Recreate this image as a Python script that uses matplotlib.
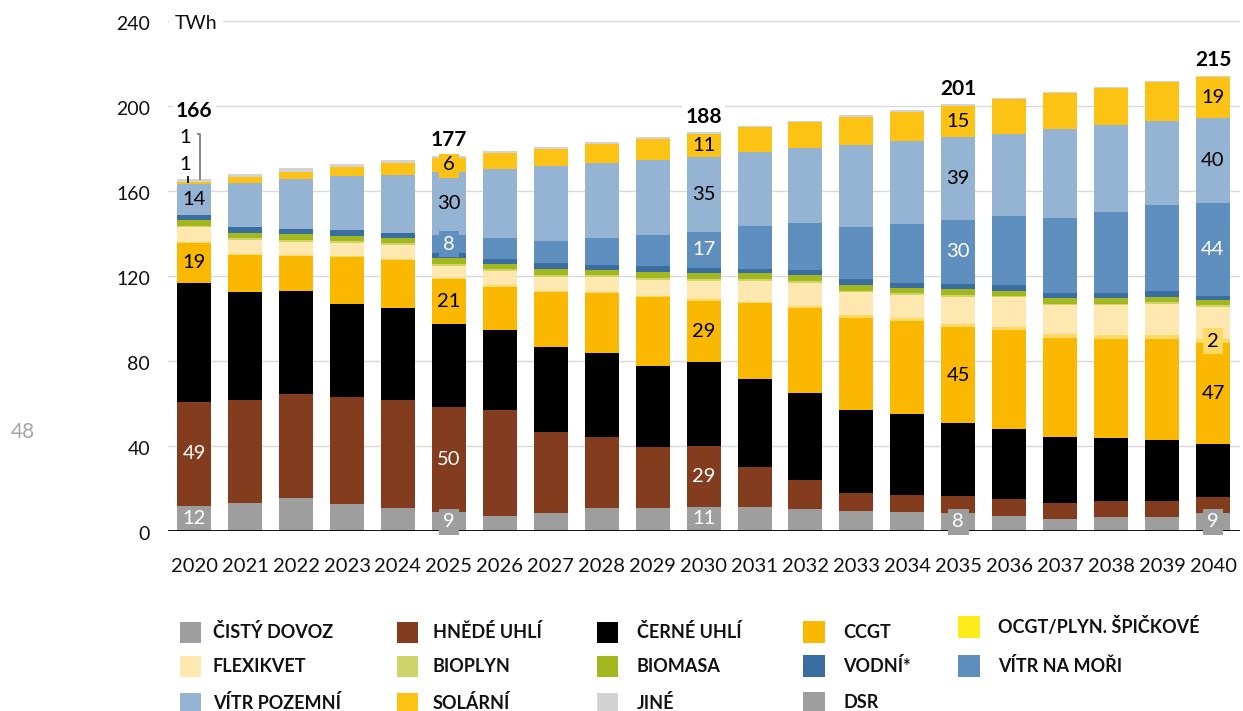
import matplotlib
matplotlib.use("Agg")
import matplotlib.pyplot as plt
from matplotlib.patches import Rectangle
from matplotlib.transforms import ScaledTranslation
import numpy as np

plt.rcParams['font.family'] = ['Lato', 'DejaVu Sans']

# ---------------- data (TWh) ----------------
years = [str(y) for y in range(2020, 2041)]

cisty_dovoz = [11.8, 13.2, 15.3, 12.7, 10.8, 8.6, 6.9, 8.2, 10.6, 10.6, 11.3,
               11.0, 10.2, 9.4, 8.7, 8.5, 6.9, 5.7, 6.6, 6.6, 8.5]
hnede_uhli = [48.7, 48.4, 49.3, 50.2, 50.8, 49.7, 50.0, 38.3, 33.7, 29.0, 28.6,
              18.9, 13.7, 8.5, 8.3, 8.0, 8.0, 7.5, 7.4, 7.4, 7.2]
cerne_uhli = [56.1, 50.9, 48.2, 43.9, 43.3, 39.0, 37.7, 40.2, 39.6, 38.0, 39.5,
              41.6, 40.8, 39.0, 37.8, 34.4, 33.0, 31.1, 29.8, 28.9, 25.3]
ccgt = [19.1, 17.6, 16.8, 22.3, 22.8, 21.2, 20.4, 25.6, 28.0, 32.4, 29.0,
        35.6, 40.4, 43.5, 44.2, 44.9, 46.7, 46.7, 46.7, 47.3, 47.3]
ocgt = [0.3, 0.4, 0.4, 0.4, 0.4, 0.5, 0.6, 0.6, 0.6, 0.7, 0.8,
        0.9, 1.0, 1.2, 1.3, 1.5, 1.6, 1.7, 1.7, 1.8, 2.0]
flexikvet = [7.0, 6.5, 6.2, 6.2, 6.5, 5.9, 6.8, 6.8, 7.2, 7.4, 8.6,
             9.7, 10.8, 10.7, 10.8, 13.0, 13.8, 13.5, 14.0, 14.8, 15.3]
bioplyn = [0.8] * 21
biomasa = [2.4, 2.6, 2.8, 2.5, 2.7, 2.6, 2.6, 2.8, 2.4, 3.2, 2.7,
           2.8, 2.8, 2.7, 2.5, 2.6, 2.3, 2.5, 2.5, 2.4, 2.3]
vodni = [2.5, 2.6, 2.4, 2.6, 2.3, 2.4, 2.4, 2.7, 2.5, 2.6, 2.4,
         2.2, 2.4, 2.7, 2.5, 2.6, 2.5, 2.7, 2.7, 2.8, 2.1]
vitr_more = [0.0, 0.0, 0.0, 0.0, 0.0, 8.6, 9.9, 10.7, 12.4, 14.6, 17.2,
             20.1, 21.9, 24.8, 27.8, 30.1, 32.9, 35.3, 38.0, 40.8, 43.8]
vitr_pozemni = [14.5, 21.0, 23.4, 25.4, 27.4, 29.9, 32.2, 35.2, 35.3, 35.4, 35.1,
                35.0, 35.4, 38.6, 38.9, 39.0, 38.6, 41.9, 40.8, 39.3, 39.7]
solarni = [0.9, 2.5, 3.6, 4.5, 5.5, 6.3, 7.5, 8.0, 9.1, 9.9, 10.8,
           11.5, 12.2, 13.2, 13.9, 14.9, 16.2, 16.7, 17.5, 18.4, 19.4]
jine = [1.6, 1.6, 1.6, 1.3, 1.4, 1.3, 1.0, 1.1, 1.0, 0.9, 0.9,
        0.6, 0.7, 0.7, 0.8, 0.7, 0.5, 0.6, 0.6, 0.6, 0.8]
dsr = [0.0] * 21

series_names = ['ČISTÝ DOVOZ', 'HNĚDÉ UHLÍ', 'ČERNÉ UHLÍ', 'CCGT', 'OCGT/PLYN. ŠPIČKOVÉ',
                'FLEXIKVET', 'BIOPLYN', 'BIOMASA', 'VODNÍ*', 'VÍTR NA MOŘI',
                'VÍTR POZEMNÍ', 'SOLÁRNÍ', 'JINÉ', 'DSR']
series_values = [cisty_dovoz, hnede_uhli, cerne_uhli, ccgt, ocgt, flexikvet, bioplyn,
                 biomasa, vodni, vitr_more, vitr_pozemni, solarni, jine, dsr]
bar_colors = ['#9E9E9E', '#843C1E', '#000000', '#FAB800', '#FFD966', '#FFE8B0',
              '#CCD46A', '#A2B81E', '#3A6EA0', '#5F8FBE', '#95B3D3', '#FCC314',
              '#D3D3D3', '#9E9E9E']
legend_colors = ['#9E9E9E', '#843C1E', '#000000', '#FAB800', '#FFEB1A', '#FFE8B0',
                 '#CCD46A', '#A2B81E', '#3A6EA0', '#5F8FBE', '#95B3D3', '#FCC314',
                 '#D3D3D3', '#9E9E9E']

# segment labels: (year, series index, text, text colour, boxed)
seg_labels = [
    ('2020', 0, '12', 'white', False), ('2020', 1, '49', 'white', False),
    ('2020', 3, '19', 'black', False), ('2020', 10, '14', 'black', False),
    ('2025', 0, '9', 'white', True), ('2025', 1, '50', 'white', False),
    ('2025', 3, '21', 'black', False), ('2025', 9, '8', 'white', True),
    ('2025', 10, '30', 'black', False), ('2025', 11, '6', 'black', True),
    ('2030', 0, '11', 'white', False), ('2030', 1, '29', 'white', False),
    ('2030', 3, '29', 'black', False), ('2030', 9, '17', 'white', False),
    ('2030', 10, '35', 'black', False), ('2030', 11, '11', 'black', False),
    ('2035', 0, '8', 'white', True), ('2035', 3, '45', 'black', False),
    ('2035', 9, '30', 'white', False), ('2035', 10, '39', 'black', False),
    ('2035', 11, '15', 'black', False),
    ('2040', 0, '9', 'white', True), ('2040', 3, '47', 'black', False),
    ('2040', 4, '2', 'black', True), ('2040', 9, '44', 'white', False),
    ('2040', 10, '40', 'black', False), ('2040', 11, '19', 'black', False),
]
total_years = ['2020', '2025', '2030', '2035', '2040']
total_texts = ['166', '177', '188', '201', '215']

y_ticks = [0, 40, 80, 120, 160, 200, 240]

# ---------------- figure ----------------
W, H = 1243, 711
fig = plt.figure(figsize=(W / 100, H / 100), dpi=100)
ax_left, ax_right, ax_bottom, ax_top = 168, 1240, 530.7, 18
ax = fig.add_axes([ax_left / W, 1 - ax_bottom / H, (ax_right - ax_left) / W,
                   (ax_bottom - ax_top) / H])

x = np.arange(len(years))
bar_w = 0.667
bottom = np.zeros(len(years))
bottoms = []
for vals, col in zip(series_values, bar_colors):
    v = np.array(vals)
    bottoms.append(bottom.copy())
    ax.bar(x, v, bar_w, bottom=bottom, color=col, linewidth=0, zorder=3)
    bottom = bottom + v
totals = bottom

ax.set_xlim(-0.514, 20.53)
ax.set_ylim(0, 241.6)
ax.set_yticks(y_ticks)
ax.set_yticklabels([str(t) for t in y_ticks])
ax.set_xticks(x)
ax.set_xticklabels(years)
ax.tick_params(axis='y', length=0, pad=13, labelsize=14, labelcolor='#111111')
ax.tick_params(axis='x', length=0, pad=20, labelsize=14.5, labelcolor='#111111')
for lab in ax.get_yticklabels():
    lab.set_transform(lab.get_transform() + ScaledTranslation(0, -2 / 100, fig.dpi_scale_trans))
for s in ax.spines.values():
    s.set_visible(False)
ax.grid(axis='y', color='#D9D9D9', linewidth=1, zorder=0)
ax.set_axisbelow(True)
ax.axhline(0, color='black', linewidth=1.3, zorder=4)

ax.annotate('TWh', xy=(0, 240), xycoords=('axes fraction', 'data'), xytext=(5, -1.5),
            textcoords='offset points', ha='left', va='center', fontsize=14,
            color='#111111', bbox=dict(boxstyle='square,pad=0.3', fc='white', ec='none'),
            zorder=5)

# segment labels
for yr, si, txt, tc, boxed in seg_labels:
    i = years.index(yr)
    yc = bottoms[si][i] + series_values[si][i] / 2
    kw = {}
    if boxed:
        kw['bbox'] = dict(boxstyle='square,pad=0.22', fc=bar_colors[si], ec='none')
    ax.text(x[i], yc, txt, ha='center', va='center', fontsize=14.5, color=tc,
            zorder=6, **kw)

# 2020 small labels (solar 1, jiné 1) with leader lines
i0 = 0
solar_top = bottoms[11][i0] + solarni[i0]
jine_top = bottoms[12][i0] + jine[i0]
ax.text(x[i0] - 0.18, 185.5, '1', ha='center', va='center', fontsize=14.5, color='black', zorder=6)
ax.text(x[i0] - 0.18, 172.6, '1', ha='center', va='center', fontsize=14.5, color='black', zorder=6)
ax.plot([x[i0] + 0.055, x[i0] + 0.114, x[i0] + 0.114], [186.9, 186.9, jine_top - 0.3],
        color='#7F7F7F', linewidth=1.3, zorder=6, solid_capstyle='butt')
ax.plot([x[i0] - 0.116, x[i0] - 0.116], [167.3, solar_top - 0.2],
        color='black', linewidth=1.2, zorder=6, solid_capstyle='butt')

# totals
for yr, txt in zip(total_years, total_texts):
    i = years.index(yr)
    off = 45 if yr == '2020' else 6.5
    ax.annotate(txt, xy=(x[i], totals[i]), xytext=(0, off), textcoords='offset points',
                ha='center', va='baseline', fontsize=15, fontweight='bold', color='black',
                bbox=dict(boxstyle='square,pad=0.15', fc='white', ec='none'), zorder=6)

# page number
fig.text(23 / W, 1 - 432 / H, '48', ha='center', va='center', fontsize=15, color='#A6A6A6')

# ---------------- legend (manual layout) ----------------
legend_layout = [
    # (series index, patch x, text x, y centre, patch size)
    (0, 180, 213, 632, 21), (1, 397, 433, 632, 21), (2, 597, 637, 632, 21),
    (3, 803, 843, 632, 22), (4, 958, 998, 627, 22),
    (5, 180, 213, 666, 21), (6, 397, 433, 666, 21), (7, 597, 637, 666, 21),
    (8, 803, 843, 666, 22), (9, 958, 998, 666, 22),
    (10, 180, 213, 703, 21), (11, 397, 433, 703, 21), (12, 597, 637, 703, 21),
    (13, 803, 843, 703, 22),
]
for si, px, tx, yc, sz in legend_layout:
    fig.add_artist(Rectangle((px / W, 1 - (yc + sz / 2) / H), sz / W, sz / H,
                             transform=fig.transFigure, facecolor=legend_colors[si],
                             edgecolor='none'))
    fig.text(tx / W, 1 - yc / H, series_names[si], ha='left', va='center',
             fontsize=13, fontweight='bold', color='#111111')

fig.savefig('out.png', dpi=100)
